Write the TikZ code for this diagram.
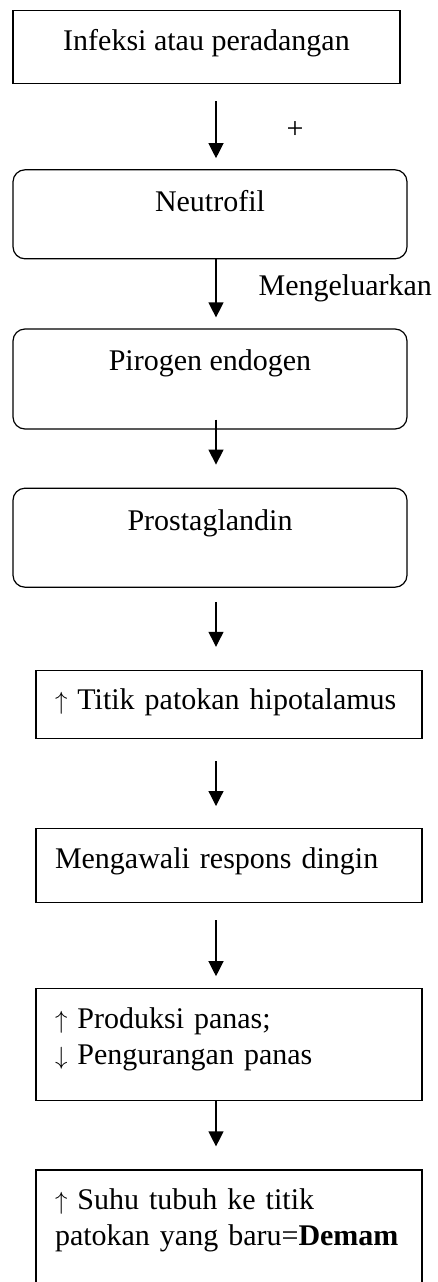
\documentclass[tikz,border=0pt]{standalone}
\usepackage{fontspec}
\setmainfont{Liberation Serif}
\usetikzlibrary{positioning,arrows.meta}
\begin{document}
\begin{tikzpicture}[x=1pt, y=-1pt, line width=1.2pt, >={Triangle[width=15pt,length=15pt]}, font=\fontsize{30}{36}\selectfont, main/.style = {draw, inner sep=0pt}, rbox/.style = {main, rounded corners=12pt, minimum width=394pt}, lbox/.style = {main, inner xsep=19pt, inner ysep=0pt, text width=348pt, align=left}]
		\useasboundingbox (0,0) rectangle (437,1282);
		\node[main, minimum width=387pt, text height=40pt, text depth=33pt, anchor=north] (1) at (206.5,10) {Infeksi atau peradangan};
		\node[rbox, text height=42pt, text depth=47pt] (2) [below=85pt of 1, xshift=3.5pt] {Neutrofil};
		\node[rbox, text height=41pt, text depth=59pt] (3) [below=69pt of 2] {Pirogen endogen};
		\node[rbox, text height=42pt, text depth=57pt] (4) [below=58pt of 3] {Prostaglandin};
		\node[lbox, text height=39pt, text depth=29pt] (5) [below=82pt of 4, xshift=19pt] {$\uparrow$ Titik patokan hipotalamus};
		\node[lbox, text height=40pt, text depth=34pt] (6) [below=89pt of 5] {Mengawali respons dingin};
		\node[lbox, text height=40pt, text depth=72pt] (7) [below=85pt of 6] {$\uparrow$ Produksi panas;\\ $\downarrow$ Pengurangan panas};
		\node[lbox, text height=39pt, text depth=80pt] (8) [below=68pt of 7] {$\uparrow$ Suhu tubuh ke titik\\ patokan yang baru=\textbf{Demam}};
		\draw[->] ([xshift=9.5pt,yshift=-17pt]1.south) -- node[right=70pt, inner sep=0pt] {+} ([xshift=6pt,yshift=11pt]2.north);
		\draw[->] ([xshift=6pt]2.south) -- node[right=42pt, inner sep=0pt] {Mengeluarkan} ([xshift=6pt,yshift=11pt]3.north);
		\draw[->] ([xshift=6pt,yshift=10pt]3.south) -- ([xshift=6pt,yshift=23pt]4.north);
		\draw[->] ([xshift=6pt,yshift=-14pt]4.south) -- ([xshift=-13pt,yshift=23pt]5.north);
		\draw[->] ([xshift=-13pt,yshift=-22pt]5.south) -- ([xshift=-13pt,yshift=22pt]6.north);
		\draw[->] ([xshift=-13pt,yshift=-17pt]6.south) -- ([xshift=-13pt,yshift=12pt]7.north);
		\draw[->] ([xshift=-13pt]7.south) -- ([xshift=-13pt,yshift=23pt]8.north);
		\end{tikzpicture}
\end{document}
